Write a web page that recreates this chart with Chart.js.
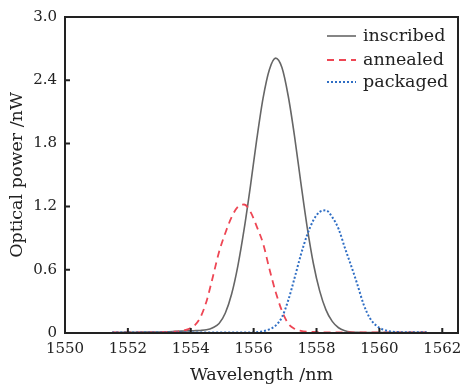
<!DOCTYPE html>
<html>
<head>
<meta charset="UTF-8">
<title>Optical power vs wavelength</title>
<script src="https://cdn.jsdelivr.net/npm/chart.js@4.4.1/dist/chart.umd.min.js"></script>
<style>
  html, body { margin: 0; padding: 0; background: #fff; }
</style>
</head>
<body>
<canvas id="spec" width="466" height="388"></canvas>
<script>
// wavelength grid (nm) and spectra (nW)
const wavelength = [1551.5, 1551.7, 1551.9, 1552.1, 1552.3, 1552.5, 1552.7, 1552.9, 1553.1, 1553.3,
    1553.5, 1553.7, 1553.9, 1554.1, 1554.3, 1554.5, 1554.7, 1554.9, 1555.1, 1555.3,
    1555.5, 1555.7, 1555.9, 1556.1, 1556.3, 1556.5, 1556.7, 1556.9, 1557.1, 1557.3,
    1557.5, 1557.7, 1557.9, 1558.1, 1558.3, 1558.5, 1558.7, 1558.9, 1559.1, 1559.3,
    1559.5, 1559.7, 1559.9, 1560.1, 1560.3, 1560.5, 1560.7, 1560.9, 1561.1, 1561.3, 1561.5];
const inscribed = [0.005, 0.005, 0.006, 0.006, 0.007, 0.008, 0.008, 0.009, 0.010, 0.012,
    0.015, 0.018, 0.020, 0.022, 0.024, 0.030, 0.050, 0.090, 0.19, 0.37,
    0.64, 0.99, 1.40, 1.84, 2.23, 2.50, 2.61, 2.52, 2.25, 1.87,
    1.43, 1.01, 0.66, 0.40, 0.22, 0.11, 0.05, 0.022, 0.010, 0.006,
    0.005, 0.005, 0.005, 0.005, 0.005, 0.005, 0.005, 0.005, 0.005, 0.005, 0.005];
const annealed = [0.005, 0.005, 0.005, 0.005, 0.005, 0.005, 0.005, 0.006, 0.008, 0.010,
    0.012, 0.018, 0.035, 0.065, 0.145, 0.30, 0.53, 0.77, 0.95, 1.10,
    1.20, 1.22, 1.15, 1.01, 0.85, 0.61, 0.39, 0.21, 0.09, 0.04,
    0.02, 0.012, 0.010, 0.008, 0.006, 0.006, 0.006, 0.006, 0.006, 0.006,
    0.006, 0.006, 0.006, 0.006, 0.006, 0.006, 0.006, 0.006, 0.006, 0.006, 0.006];
const packaged = [0.005, 0.005, 0.005, 0.005, 0.005, 0.005, 0.005, 0.005, 0.005, 0.005,
    0.005, 0.005, 0.005, 0.005, 0.005, 0.005, 0.005, 0.005, 0.005, 0.005,
    0.005, 0.005, 0.005, 0.008, 0.017, 0.035, 0.07, 0.15, 0.31, 0.52,
    0.74, 0.93, 1.07, 1.15, 1.165, 1.10, 0.99, 0.81, 0.64, 0.46,
    0.27, 0.14, 0.07, 0.035, 0.018, 0.010, 0.008, 0.006, 0.006, 0.006, 0.006];

const seriesNames = ['inscribed', 'annealed', 'packaged'];
const xTicks = [1550, 1552, 1554, 1556, 1558, 1560, 1562];
const yTicks = [0, 0.6, 1.2, 1.8, 2.4, 3.0];
const yTickLabels = ['0', '0.6', '1.2', '1.8', '2.4', '3.0'];

const ink = '#222';
const tickFont = { family: 'DejaVu Serif', size: 15 };
const titleFont = { family: 'DejaVu Serif', size: 17.5 };

function pairs(values) {
    return wavelength.map((w, i) => ({ x: w, y: values[i] }));
}

// box frame, inward tick marks and the legend inside the plot
const framePlugin = {
    id: 'frame',
    afterDraw(chart) {
        const ctx = chart.ctx;
        const a = chart.chartArea;
        const xs = chart.scales.x;
        const ys = chart.scales.y;
        ctx.save();
        ctx.strokeStyle = ink;
        ctx.lineWidth = 2;
        ctx.setLineDash([]);
        ctx.strokeRect(a.left, a.top, a.right - a.left, a.bottom - a.top);
        ctx.beginPath();
        xTicks.forEach(v => {
            const px = xs.getPixelForValue(v);
            if (px > a.left + 2) { ctx.moveTo(px, a.bottom); ctx.lineTo(px, a.bottom - 5); }
        });
        yTicks.forEach(v => {
            const py = ys.getPixelForValue(v);
            if (py > a.top + 2 && py < a.bottom - 2) { ctx.moveTo(a.left, py); ctx.lineTo(a.left + 5, py); }
        });
        ctx.stroke();

        const rows = [a.top + 19, a.top + 43, a.top + 65];
        ctx.font = '17.5px "DejaVu Serif"';
        ctx.textBaseline = 'middle';
        ctx.fillStyle = ink;
        chart.data.datasets.forEach((ds, i) => {
            const y = rows[i];
            ctx.strokeStyle = ds.borderColor;
            ctx.lineWidth = ds.borderWidth;
            ctx.setLineDash(ds.borderDash || []);
            ctx.beginPath();
            ctx.moveTo(a.right - 131, y);
            ctx.lineTo(a.right - 102, y);
            ctx.stroke();
            ctx.fillText(ds.label, a.right - 95, y);
        });
        ctx.restore();
    }
};

new Chart(document.getElementById('spec'), {
    type: 'line',
    data: {
        datasets: [
            {
                label: seriesNames[0],
                data: pairs(inscribed),
                borderColor: '#666666',
                borderWidth: 1.6,
                borderDash: [],
                order: 3
            },
            {
                label: seriesNames[1],
                data: pairs(annealed),
                borderColor: '#ee4654',
                borderWidth: 1.8,
                borderDash: [7, 5],
                order: 2
            },
            {
                label: seriesNames[2],
                data: pairs(packaged),
                borderColor: '#2f6ec4',
                borderWidth: 2,
                borderDash: [2, 2],
                order: 1
            }
        ]
    },
    options: {
        responsive: false,
        animation: false,
        devicePixelRatio: 1,
        layout: { padding: { top: 16, right: 8, left: 0, bottom: 0 } },
        elements: {
            point: { radius: 0 },
            line: { cubicInterpolationMode: 'monotone', fill: false }
        },
        plugins: {
            legend: { display: false },
            tooltip: { enabled: false }
        },
        scales: {
            x: {
                type: 'linear',
                min: 1550,
                max: 1562.5,
                afterBuildTicks: s => { s.ticks = xTicks.map(v => ({ value: v })); },
                afterFit: s => { s.height = 55; s.paddingRight = 0; s.paddingLeft = 0; },
                grid: { display: false, drawTicks: false },
                border: { display: false },
                ticks: {
                    font: tickFont, color: ink, padding: 7, maxRotation: 0, autoSkip: false,
                    callback: v => String(v)
                },
                title: { display: true, text: 'Wavelength /nm', font: titleFont, color: ink, padding: { top: 0, bottom: 2 } }
            },
            y: {
                min: 0,
                max: 3,
                afterBuildTicks: s => { s.ticks = yTicks.map(v => ({ value: v })); },
                afterFit: s => { s.width = 65; },
                grid: { display: false, drawTicks: false },
                border: { display: false },
                ticks: {
                    font: tickFont, color: ink, padding: 8, autoSkip: false,
                    callback: (v, i) => yTickLabels[i]
                },
                title: { display: true, text: 'Optical power /nW', font: titleFont, color: ink, padding: { top: 7, bottom: 0 } }
            }
        }
    },
    plugins: [framePlugin]
});
</script>
</body>
</html>
